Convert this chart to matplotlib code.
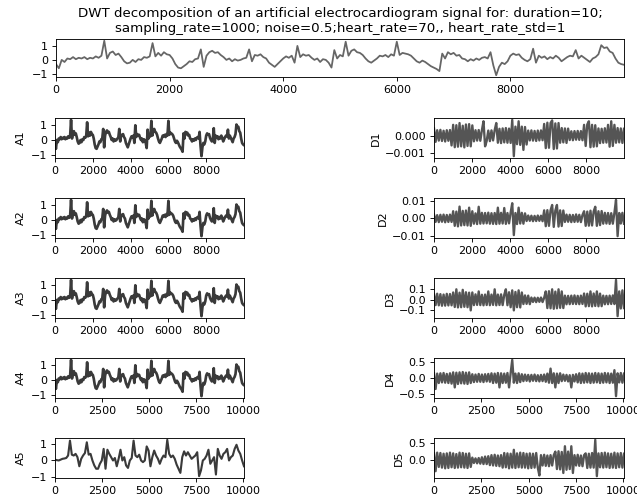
import numpy as np
import matplotlib
matplotlib.use("Agg")
import matplotlib.pyplot as plt

# Raw artificial ECG signal (10000 samples, read at a step of 50 samples)
signal = [-0.3, -0.6, 0.0, -0.15, 0.1, 0.05, 0.2, 0.05, 0.15, 0.1,
          0.2, 0.05, 0.15, 0.1, 0.25, 0.15, 0.3, 1.37, 0.1, 0.5,
          0.6, 0.35, 0.45, 0.2, -0.1, -0.25, -0.2, 0.0, -0.15, 0.05,
          0.0, 0.2, 0.15, 0.25, 1.2, 0.25, 0.5, 0.3, 0.55, 0.4,
          0.35, 0.1, -0.3, -0.55, -0.6, -0.45, -0.3, -0.1, -0.15, 0.05,
          0.1, 0.75, -0.5, 0.3, 0.55, 0.65, 0.5, 0.55, 0.35, 0.2,
          0.0, 0.1, -0.1, 0.05, -0.05, 0.0, 0.1, 0.15, 0.75, -0.1,
          0.35, 0.3, 0.4, 0.2, 0.1, -0.2, -0.35, -0.5, -0.3, -0.1,
          0.1, 0.25, 0.15, 0.3, -0.2, 1.0, 0.2, 0.4, 0.3, 0.35,
          0.15, 0.0, 0.1, -0.15, 0.05, 0.0, -0.2, -0.55, 0.7, 0.1,
          0.35, 0.25, 1.3, 0.3, 0.65, 0.75, 0.55, 0.5, 0.35, 0.1,
          -0.1, -0.2, -0.05, 0.1, 0.3, 0.25, 0.35, 0.2, 0.4, 0.3,
          1.3, 0.35, 0.5, 0.45, 0.4, 0.3, 0.1, -0.1, -0.2, -0.05,
          -0.15, -0.3, -0.45, -0.55, -0.65, -0.8, 0.45, 0.1, 0.55, 0.4,
          0.5, 0.3, 0.35, 0.1, 0.05, -0.1, 0.05, -0.05, 0.1, 0.0,
          0.15, 0.2, 0.1, 0.55, -0.4, -1.1, -0.5, -0.2, -0.3, -0.1,
          0.3, 0.45, 0.35, 0.4, 0.15, 0.0, -0.1, 0.05, 0.8, -0.2,
          0.3, 0.15, 0.25, 0.05, 0.2, 0.1, 0.3, 0.15, -0.1, 0.05,
          0.2, 0.3, 0.25, 0.7, 0.1, 0.3, 0.15, 0.0, -0.15, 0.1,
          0.2, 0.4, 1.05, 0.85, 0.9, 0.6, 0.5, 0.1, -0.2, -0.3, -0.35]

# Level-5 approximation (step of ~100 samples)
A5 = [0.05, 0.02, 0.0, 0.05, 0.1, 0.12, 0.15, 0.3, 1.2, 0.35,
      0.3, 0.4, 0.2, -0.35, 0.1, 0.3, 0.45, 1.1, 0.35, 0.4,
      0.0, -0.3, -0.5, -0.5, -0.2, 0.0, 0.7, -0.5, 0.65, 0.4,
      0.2, 0.0, 0.15, -0.35, 0.1, 0.65, 0.0, 0.2, -0.3, -0.45,
      0.0, 0.15, 1.2, 0.3, 0.2, 0.35, 0.0, -0.1, 0.0, 0.85,
      0.6, -0.35, 0.2, 0.6, 0.3, 0.1, -0.2, 0.1, 0.3, 0.2,
      1.25, 0.4, 0.2, 0.3, 0.1, -0.25, -0.5, -0.75, 0.2, 0.55,
      0.3, 0.5, 0.3, 0.1, 0.2, 0.3, 0.5, -0.95, -0.6, 0.0,
      0.1, 0.3, 0.65, -0.2, 0.0, 0.2, -0.85, 0.7, 0.3, 0.1,
      0.4, 0.5, 0.7, 0.0, 0.2, 0.3, 0.7, 0.95, 0.6, 0.4, 0.0, -0.35]

# Detail coefficients (reconstructed), stored in scaled units
D1_e5 = [40, -35, 30, -28, 32, -30, 27, -33, 30, -29,
         31, -55, 60, -65, 58, -62, 70, -60, 55, -66,
         62, -58, 64, -60, 57, -32, 30, -28, 31, -29,
         30, 80, -60, -30, 28, -31, 29, -27, 30, 70,
         -40, 38, -42, 40, -38, 42, -40, 39, -41, 88,
         -115, 50, -48, 80, -52, 50, -80, 48, -50, 28,
         -27, 29, -28, 26, -30, 28, -27, 29, -26, 65,
         -70, 72, -68, 70, 85, -75, 68, -72, 70, -40,
         42, -38, 40, -41, 39, -25, 24, -26, 25, -23,
         26, -24, 25, -26, 60, -58, 62, 80, -65, 60,
         -62, 58, -60, 40, -42, 38, -40, 41, -39, 60,
         -62, 80, -58, 60, -40, 42, -38, 40, -41, 38]

D2_e4 = [22, -20, 18, -21, 20, -19, 21, -22, 19, -20,
         21, -20, 40, -42, 38, -45, 66, -40, 42, -38,
         44, -40, 60, -42, 40, -30, 28, -32, 65, -30,
         31, -29, 30, -28, 32, -30, 29, -31, 30, -32,
         60, -30, 31, -29, 58, -31, 30, -28, 32, 85,
         -94, 30, -32, 60, -29, 31, -30, 28, -15, 16,
         -14, 15, -16, 14, -15, 16, -14, 15, -16, 45,
         -44, 46, -42, 45, 75, -48, 44, 75, -46, 45,
         -43, 44, -20, 21, -19, 20, -21, 19, -20, 22,
         -19, 20, -21, 19, 40, -42, 38, -41, 43, -40,
         39, 65, -42, 40, -38, 41, -30, 31, -29, 30,
         -31, 29, -30, 31, 104, -100, 30, -29, 31, -30]

D3_e3 = [55, -50, 58, -52, 54, -56, 50, -55, 57, -53,
         55, -52, 70, -68, 100, -72, 68, -70, 95, -66,
         72, -70, 68, -100, 70, -50, 52, -48, 80, -50,
         48, -52, 50, -49, 80, -51, 50, -48, 100, -52,
         50, -49, 52, -50, 48, 100, -51, 72, -70, 90,
         -100, 75, -70, 90, -72, 70, -40, 42, -38, 40,
         -41, 22, -20, 21, -22, 20, -19, 22, -21, 20,
         80, -78, 82, -80, 100, -85, 78, -80, 100, -76,
         80, -78, 40, -42, 38, -41, 40, -39, 42, -40,
         38, -41, 40, -39, 60, -62, 58, -60, 80, -62,
         60, -58, 80, -61, 59, -60, 40, -42, 38, -41,
         40, -39, 42, -40, 190, -155, 80, -82, 90, -78]

D4_e2 = [15, -35, 14, -16, 15, -14, 16, -15, 13, -16,
         15, -18, 18, -30, 17, -19, 18, -17, 19, -18,
         17, -19, 18, -16, 12, -13, 11, -12, 13, -12,
         11, -13, 12, -11, 13, -12, 15, -16, 14, -15,
         16, -30, 15, -16, 14, -15, 16, -30, 15, 58,
         -15, 14, -16, 15, -13, 12, -10, 11, -9, 10,
         -11, 10, -9, 11, -10, 9, -11, 10, -10, 11,
         -12, 14, -15, 30, -16, 15, -30, 14, -16, 15,
         -10, 11, -9, 10, -11, 9, -30, 10, -11, 12,
         -14, 15, -16, 14, -15, 16, -14, 15, -16, 14,
         -15, 16, -14, 15, -16, 14, -15, 16, -14, 15,
         -16, 14, -15, 25, -58, 15, -14, 16, -15, 14]

D5_e2 = [20, -30, 22, -18, 21, -20, 19, -22, 20, -21,
         22, -19, 20, -21, 18, -20, 22, -19, 21, -20,
         19, -21, 20, -18, 8, -7, 6, -8, 7, -9,
         9, -10, 11, -10, 12, -13, 15, -14, 16, -15,
         14, -16, 15, -20, 21, -19, 20, -22, 19, -20,
         30, -21, 20, -19, 22, -20, 21, -20, 19, -22,
         20, -21, 19, -20, 21, -20, -42, 15, -14, 16,
         -15, 14, -16, 15, -14, 15, 25, -24, 26, -25,
         24, -35, 40, -26, 25, -24, 40, -35, 15, -14,
         16, -15, 14, -16, 15, 20, -21, 19, -20, 21,
         -20, 58, -44, 20, -19, 21, -20, 22, -19, 20,
         -21, 19, -20, 22, -21, 20, -19, 21, -20, 19]

approx_labels = ["A1", "A2", "A3", "A4", "A5"]
detail_labels = ["D1", "D2", "D3", "D4", "D5"]
approx_series = [signal, signal, signal, signal, A5]
detail_series = [np.array(D1_e5) * 1e-5, np.array(D2_e4) * 1e-4,
                 np.array(D3_e3) * 1e-3, np.array(D4_e2) * 1e-2,
                 np.array(D5_e2) * 1e-2]
series_len = [9999, 9999, 9999, 10030, 10030]
signal_yticks = [-1, 0, 1]
approx_yticks = [-1, 0, 1]
detail_yticks = [[-0.001, 0.0], [-0.01, 0.0, 0.01], [-0.1, 0.0, 0.1],
                 [-0.5, 0.0, 0.5], [0.0, 0.5]]
detail_fmt = ["%.3f", "%.2f", "%.1f", "%.1f", "%.1f"]

title = ("DWT decomposition of an artificial electrocardiogram signal for: duration=10;\n"
         "sampling_rate=1000; noise=0.5;heart_rate=70,, heart_rate_std=1")

W, H = 637, 502
fig = plt.figure(figsize=(W / 80, H / 80), dpi=80)


def box(l, t, r, b):
    return [l / W, 1 - b / H, (r - l) / W, (b - t) / H]


ax0 = fig.add_axes(box(56, 39, 624, 77))
t0 = np.linspace(0, 9999, len(signal))
ax0.plot(t0, signal, color="#666666", lw=1.6)
ax0.set_xlim(0, 9999)
ax0.set_yticks(signal_yticks)
ax0.set_title(title, fontsize=12)

for k in range(5):
    top = 118 + 80 * k
    axl = fig.add_axes(box(55, top, 244, top + 40))
    ys = approx_series[k]
    tl = np.linspace(0, series_len[k], len(ys))
    axl.plot(tl, ys, color="#3a3a3a", lw=2.4 if k < 4 else 1.9)
    axl.set_xlim(0, series_len[k])
    axl.set_yticks(approx_yticks)
    axl.set_ylabel(approx_labels[k])

    axr = fig.add_axes(box(434, top, 624, top + 40))
    yd = detail_series[k]
    td = np.linspace(0, series_len[k], len(yd))
    axr.plot(td, yd, color="#555555", lw=2.1)
    axr.set_xlim(0, series_len[k])
    axr.set_yticks(detail_yticks[k])
    axr.yaxis.set_major_formatter(matplotlib.ticker.FormatStrFormatter(detail_fmt[k]))
    axr.yaxis.set_major_formatter(matplotlib.ticker.FuncFormatter(
        lambda v, p, f=detail_fmt[k]: (f % v).replace("-", "\u2212")))
    axr.set_ylabel(detail_labels[k])

fig.savefig("out.png", dpi=80)
